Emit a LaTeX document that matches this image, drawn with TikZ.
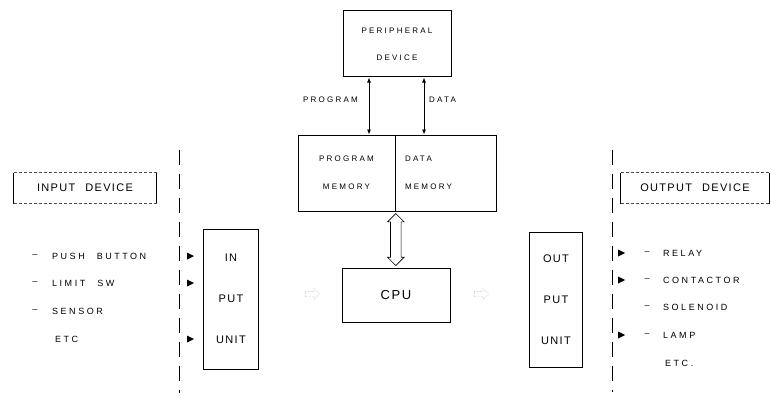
\documentclass[tikz,border=0pt]{standalone}
\usepackage{fontspec}
\setmainfont{Liberation Sans}
\newfontfamily\plcfont[LetterSpace=28]{Liberation Sans}
\newfontfamily\bigfont[LetterSpace=12]{Liberation Sans}
\usetikzlibrary{arrows.meta,shapes.arrows,calc}

\tikzset{
  box/.style={draw, line width=1pt, inner sep=0pt, align=center, font=\plcfont\fontsize{8}{9.6}\selectfont},
  unitbox/.style={draw, line width=1pt, inner sep=0pt, align=center, font=\bigfont\fontsize{11}{13}\selectfont},
  item/.style={anchor=west, inner sep=0pt, font=\plcfont\fontsize{9}{10}\selectfont},
  link/.style={{Latex[length=5pt,width=4pt]}-{Latex[length=5pt,width=4pt]}, line width=0.8pt},
  bus/.style={draw, line width=0.7pt, shape=double arrow, double arrow head extend=3pt, inner sep=5pt},
  flow/.style={draw, densely dotted, gray!80, shape=single arrow, single arrow head extend=2.5pt, inner sep=2.5pt, minimum height=14pt},
  border/.style={line width=0.9pt, dash pattern=on 15pt off 9pt},
}

\begin{document}
\begin{tikzpicture}[x=1pt, y=-1pt]
  \useasboundingbox (0,0) rectangle (771,396);

  % -- peripheral device and program/data memory --
  \node[box, minimum width=108pt, minimum height=66pt] (periph) at (397,44) {PERIPHERAL\\[17pt]DEVICE};
  \node[box, minimum width=97pt, minimum height=76pt] (progmem) at (346.5,173) {PROGRAM\\[18pt]MEMORY};
  \node[box, minimum height=76pt, text width=81pt, inner xsep=10pt, align=left] (datamem) at (445.5,173) {DATA\\[18pt]MEMORY};

  \draw[link] ([xshift=-28pt]periph.south) -- ([xshift=-28pt]periph.south |- progmem.north);
  \draw[link] ([xshift=27pt]periph.south) -- ([xshift=27pt]periph.south |- datamem.north);
  \node[item, anchor=east, font=\plcfont\fontsize{8}{9.6}\selectfont] (proglbl) at (358,100) {PROGRAM};
  \node[item, font=\plcfont\fontsize{8}{9.6}\selectfont] (datalbl) at (429,100) {DATA};

  % -- CPU and the bus up to the memory --
  \node[unitbox, minimum width=108pt, minimum height=54pt, font=\bigfont\fontsize{13}{15}\selectfont] (cpu) at (396,295) {CPU};
  \node[bus, rotate=90, minimum height=52pt, minimum width=16pt] (memcpu) at ($(progmem.south east)!0.5!(cpu.north)$) {};

  % -- I/O units --
  \node[unitbox, minimum width=55pt, minimum height=140pt] (inunit) at (231,299) {IN\\[28pt]PUT\\[28pt]UNIT};
  \node[unitbox, minimum width=53pt, minimum height=135pt] (outunit) at (556,300) {OUT\\[28pt]PUT\\[28pt]UNIT};
  \node[flow] (cpuin) at (311,294) {};
  \node[flow] (cpuout) at (480,294) {};

  % -- field side boundaries --
  \draw[border] (179,150) -- (179,393);
  \draw[border] (612,150) -- (612,392);

  % -- input devices --
  \node[unitbox, draw=none, minimum width=142pt, minimum height=30pt] (indev) at (85,188) {INPUT\hspace{10pt}DEVICE};
  \draw[line width=1pt] (indev.north west) -- (indev.south west) (indev.north east) -- (indev.south east);
  \draw[line width=0.7pt, densely dashed, black!70] (indev.north west) -- (indev.north east) (indev.south west) -- (indev.south east);

  \foreach \y/\name/\txt in {256/pushbtn/{PUSH\hspace{12pt}BUTTON}, 283/limitsw/{LIMIT\hspace{12pt}SW}, 311/sensor/SENSOR}{
    \node[item, anchor=center] at (35,\y) {–};
    \node[item] (\name) at (52,\y) {\txt};
  }
  \node[item] (inetc) at (55,339) {ETC};
  \foreach \y in {256,283,339}
    \fill (187,\y-3.5) -- (194,\y) -- (187,\y+3.5) -- cycle;

  % -- output devices --
  \node[unitbox, draw=none, minimum width=148pt, minimum height=30pt] (outdev) at (695,188) {OUTPUT\hspace{10pt}DEVICE};
  \draw[line width=1pt] (outdev.north west) -- (outdev.south west) (outdev.north east) -- (outdev.south east);
  \draw[line width=0.7pt, densely dashed, black!70] (outdev.north west) -- (outdev.north east) (outdev.south west) -- (outdev.south east);

  \foreach \y/\name/\txt in {253/relay/RELAY, 280/contactor/CONTACTOR, 307/solenoid/SOLENOID, 335/lamp/LAMP}{
    \node[item, anchor=center] at (647,\y) {–};
    \node[item] (\name) at (663,\y) {\txt};
  }
  \node[item] (outetc) at (665,363) {ETC.};
  \foreach \y in {253,280,335}
    \fill (618,\y-3.5) -- (625,\y) -- (618,\y+3.5) -- cycle;

\end{tikzpicture}
\end{document}
